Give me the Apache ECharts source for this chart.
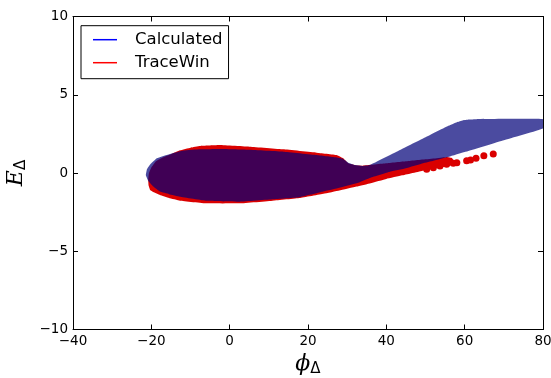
<!DOCTYPE html>
<html><head><meta charset="utf-8">
<script src="https://cdn.jsdelivr.net/npm/echarts@6/dist/echarts.min.js"></script>
<style>html,body{margin:0;padding:0;background:#fff}#c{width:551px;height:378px}</style>
</head><body><div id="c"></div>
<script>
// TraceWin particle envelope (phi_Delta, E_Delta), boundary traced clockwise
const redPhi = [-20.8,-20.6,-20.0,-18.8,-17.0,-15.0,-12.7,-10.0,-7.6,-2.5,5.2,13.7,22.2,27.3,29.0,30.3,32.0,34.0,40.0,45.0,50.0,53.0,55.5,56.8,57.3,57.0,55.0,49.4,44.0,40.0,36.0,32.4,28.0,24.0,17.9,11.1,2.6,-5.9,-12.7,-15.5,-17.8,-19.5,-20.3,-20.7];
const redE   = [-0.45,0.0,0.35,0.75,1.0,1.2,1.45,1.62,1.73,1.79,1.68,1.51,1.30,1.15,0.94,0.62,0.50,0.47,0.62,0.75,0.88,0.95,1.02,0.95,0.75,0.52,0.40,0.15,-0.15,-0.38,-0.65,-0.87,-1.12,-1.33,-1.6,-1.77,-1.94,-1.94,-1.77,-1.6,-1.41,-1.22,-1.09,-0.8];
// TraceWin outlying particles
const dotPhi = [50.3,52.0,53.7,55.4,57.1,58.0,60.5,61.5,62.9,64.9,67.3];
const dotE   = [0.24,0.34,0.45,0.56,0.62,0.66,0.79,0.83,0.94,1.11,1.21];
// Calculated envelope
const bluePhi = [-21.4,-21.1,-20.3,-18.6,-15.2,-11.8,-7.6,-2.0,5.0,13.7,22.2,27.0,29.0,30.3,32.0,34.0,35.8,43.5,50.0,56.0,58.0,59.5,61.0,63.0,80.0,80.0,70.0,60.0,56.0,52.0,49.4,45.0,40.9,36.0,32.4,28.0,23.9,17.9,11.1,2.6,-5.9,-12.7,-15.5,-17.8,-19.5,-20.8];
const blueE   = [-0.15,0.25,0.55,0.94,1.21,1.43,1.51,1.53,1.48,1.36,1.15,1.0,0.9,0.66,0.51,0.45,0.51,1.47,2.28,3.03,3.25,3.36,3.42,3.44,3.44,2.85,2.1,1.34,1.04,0.78,0.62,0.3,0.08,-0.3,-0.66,-0.95,-1.19,-1.55,-1.68,-1.83,-1.77,-1.51,-1.35,-1.19,-0.87,-0.5];
const xTicks = [-40,-20,0,20,40,60,80];
const yTicks = [-10,-5,0,5,10];

const fmt = v => String(v).replace('-', '\u2212');
const tickFont = {fontFamily:'DejaVu Sans', fontSize:13.5, color:'#000'};
function polygon(px, py, fill){
  return function(params, api){
    return {type:'polygon', shape:{points: px.map((x,i)=>api.coord([x, py[i]])), smooth:0.08}, style:{fill:fill}};
  };
}
const chart = echarts.init(document.getElementById('c'), null, {renderer:'canvas'});
const axisCommon = {
  axisLine:{show:true, onZero:false, lineStyle:{color:'#000', width:1}},
  axisTick:{show:true, inside:true, length:5, lineStyle:{color:'#000'}},
  splitLine:{show:false}
};
const nameRich = {
  a:{fontFamily:'DejaVu Serif', fontStyle:'italic', fontSize:22, color:'#000'},
  b:{fontFamily:'DejaVu Sans', fontSize:15, color:'#000', padding:[10,0,0,0]}
};
chart.setOption({
  animation:false,
  backgroundColor:'#fff',
  grid:{left:73, right:8, top:16.5, bottom:48.5, containLabel:false, outerBoundsMode:'none'},
  legend:{
    orient:'vertical', left:81, top:25.7,
    borderColor:'#000', borderWidth:1, borderRadius:0,
    padding:[5,6,7,12], itemGap:5, itemWidth:24, itemHeight:1.5,
    textStyle:{fontFamily:'DejaVu Sans', fontSize:16.5, color:'#000', lineHeight:18, padding:[0,0,0,13]},
    data:[
      {name:'Calculated', icon:'rect', itemStyle:{color:'#0000ff'}},
      {name:'TraceWin', icon:'rect', itemStyle:{color:'#ff0000'}}
    ]
  },
  xAxis:[
    Object.assign({type:'value', min:xTicks[0], max:xTicks[xTicks.length-1], interval:20, position:'bottom',
      axisLabel:Object.assign({formatter:fmt, margin:5}, tickFont),
      name:'{a|\u03d5}{b|\u0394}', nameLocation:'middle', nameGap:20,
      nameTextStyle:{rich:nameRich}
    }, axisCommon),
    Object.assign({type:'value', min:xTicks[0], max:xTicks[xTicks.length-1], interval:20, position:'top', axisLabel:{show:false}}, axisCommon)
  ],
  yAxis:[
    Object.assign({type:'value', min:yTicks[0], max:yTicks[yTicks.length-1], interval:5, position:'left',
      axisLabel:Object.assign({formatter:fmt, margin:5}, tickFont),
      name:'{a|E}{b|\u0394}', nameLocation:'middle', nameGap:36, nameRotate:90,
      nameTextStyle:{rich:nameRich}
    }, axisCommon),
    Object.assign({type:'value', min:yTicks[0], max:yTicks[yTicks.length-1], interval:5, position:'right', axisLabel:{show:false}}, axisCommon)
  ],
  series:[
    {name:'TraceWin', type:'custom', z:1, clip:true, renderItem:polygon(redPhi, redE, '#da0000'), data:[[0,0]], itemStyle:{color:'#ff0000'}, silent:true},
    {name:'TraceWin', type:'scatter', z:2, symbolSize:7, itemStyle:{color:'#da0000', opacity:1}, data:dotPhi.map((x,i)=>[x, dotE[i]]), silent:true},
    {name:'Calculated', type:'custom', z:3, clip:true, renderItem:polygon(bluePhi, blueE, 'rgba(0,0,120,0.706)'), data:[[0,0]], itemStyle:{color:'#0000ff'}, silent:true}
  ]
});
</script></body></html>
